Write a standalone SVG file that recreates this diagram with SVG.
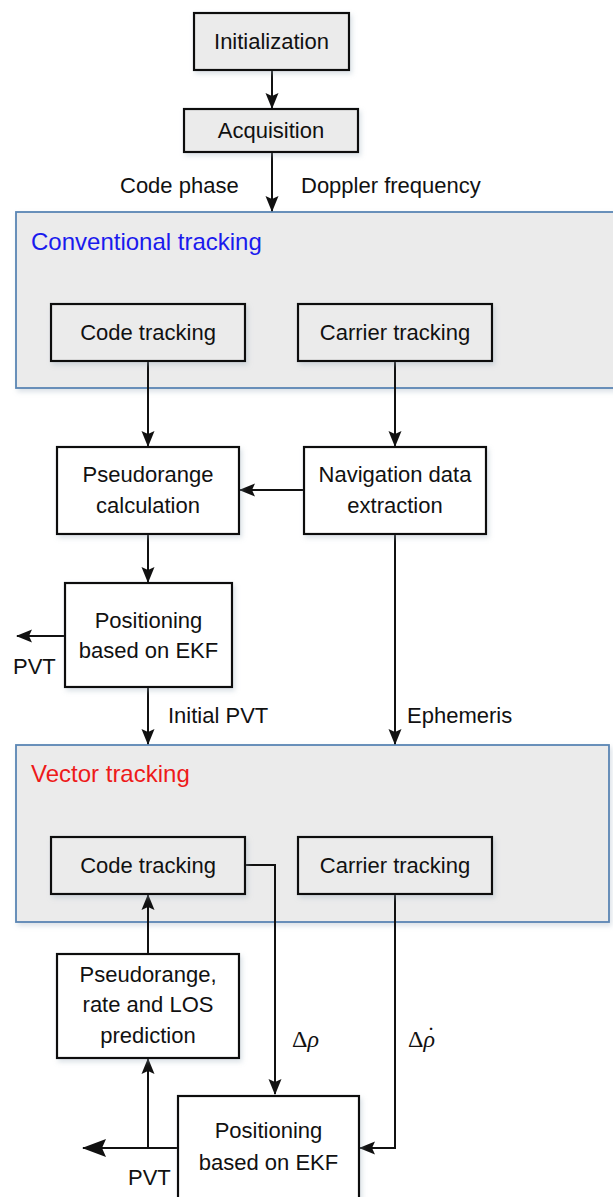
<svg xmlns="http://www.w3.org/2000/svg" width="613" height="1197" viewBox="0 0 613 1197">
<defs>
<style>
.t{font-family:"Liberation Sans",Arial,sans-serif;font-size:22px;fill:#111;text-anchor:middle}
.l{font-family:"Liberation Sans",Arial,sans-serif;font-size:22px;fill:#111}
.h{font-family:"Liberation Sans",Arial,sans-serif;font-size:24px}
.g{font-family:"Liberation Serif","Times New Roman",serif;font-size:24px;fill:#111}
.box{fill:#ffffff;stroke:#111;stroke-width:2.2}
.gbox{fill:#ebebeb;stroke:#111;stroke-width:2.2}
.grp{fill:#ebebeb;stroke:#5a86b4;stroke-width:1.8}
.c{fill:none;stroke:#111;stroke-width:2}
</style>
<marker id="ah" markerUnits="userSpaceOnUse" markerWidth="16" markerHeight="14" viewBox="0 0 16 14" refX="15" refY="7" orient="auto">
<path d="M0,0.5 L16,7 L0,13.5 L3,7 Z" fill="#111"/>
</marker>
<marker id="ahL" markerUnits="userSpaceOnUse" markerWidth="24" markerHeight="20" viewBox="0 0 24 20" refX="23" refY="10" orient="auto">
<path d="M0,1 L24,10 L0,19 L4,10 Z" fill="#111"/>
</marker>
<filter id="sh" x="-10%" y="-10%" width="125%" height="130%">
<feDropShadow dx="2" dy="3" stdDeviation="2.5" flood-color="#9ab" flood-opacity="0.35"/>
</filter>
</defs>
<rect width="613" height="1197" fill="#ffffff"/>

<g id="conventional-group">
<rect class="grp" x="16" y="212" width="610" height="176" filter="url(#sh)"/>
<text class="h" x="31" y="250" fill="#1a1aee">Conventional tracking</text>
</g>
<g id="vector-group">
<rect class="grp" x="16" y="745" width="593" height="177" filter="url(#sh)"/>
<text class="h" x="31" y="782" fill="#ee1a1a">Vector tracking</text>
</g>

<g id="connectors">
<line class="c" x1="272" y1="70" x2="272" y2="108" marker-end="url(#ah)"/>
<line class="c" x1="272" y1="152" x2="272" y2="211" marker-end="url(#ah)"/>
<line class="c" x1="148" y1="361" x2="148" y2="446" marker-end="url(#ah)"/>
<line class="c" x1="395" y1="361" x2="395" y2="446" marker-end="url(#ah)"/>
<line class="c" x1="304" y1="490" x2="240" y2="490" marker-end="url(#ah)"/>
<line class="c" x1="148" y1="534" x2="148" y2="582" marker-end="url(#ah)"/>
<line class="c" x1="65" y1="636" x2="17" y2="636" marker-end="url(#ah)"/>
<line class="c" x1="148" y1="687" x2="148" y2="744" marker-end="url(#ah)"/>
<line class="c" x1="395" y1="534" x2="395" y2="744" marker-end="url(#ah)"/>
<polyline class="c" points="245,865 275,865 275,1094" marker-end="url(#ah)"/>
<polyline class="c" points="395,894 395,1148 360,1148" marker-end="url(#ah)"/>
<line class="c" x1="148" y1="954" x2="148" y2="895" marker-end="url(#ah)"/>
<line class="c" x1="178" y1="1148" x2="83" y2="1148" marker-end="url(#ahL)"/>
<line class="c" x1="148" y1="1148" x2="148" y2="1059" marker-end="url(#ah)"/>
<text class="l" x="120" y="193">Code phase</text>
<text class="l" x="301" y="193">Doppler frequency</text>
<text class="l" x="13" y="674">PVT</text>
<text class="l" x="168" y="723">Initial PVT</text>
<text class="l" x="407" y="723">Ephemeris</text>
<text class="g" x="292" y="1047">Δ<tspan font-style="italic">ρ</tspan></text>
<text class="g" x="408" y="1047">Δ<tspan font-style="italic">ρ</tspan><tspan dx="-8" dy="-4">˙</tspan></text>
<text class="l" x="128" y="1185">PVT</text>
</g>

<g id="initialization">
<rect class="gbox" x="194" y="13" width="155" height="57" filter="url(#sh)"/>
<text class="t" x="271.5" y="49">Initialization</text>
</g>
<g id="acquisition">
<rect class="gbox" x="184" y="109" width="174" height="43" filter="url(#sh)"/>
<text class="t" x="271" y="138">Acquisition</text>
</g>
<g id="conv-code-tracking">
<rect class="gbox" x="51" y="304" width="194" height="57" filter="url(#sh)"/>
<text class="t" x="148" y="340">Code tracking</text>
</g>
<g id="conv-carrier-tracking">
<rect class="gbox" x="298" y="304" width="194" height="57" filter="url(#sh)"/>
<text class="t" x="395" y="340">Carrier tracking</text>
</g>
<g id="pseudorange-calculation">
<rect class="box" x="57" y="447" width="182" height="87" filter="url(#sh)"/>
<text class="t" x="148" y="482">Pseudorange</text>
<text class="t" x="148" y="513">calculation</text>
</g>
<g id="navigation-data-extraction">
<rect class="box" x="304" y="447" width="182" height="87" filter="url(#sh)"/>
<text class="t" x="395" y="482">Navigation data</text>
<text class="t" x="395" y="513">extraction</text>
</g>
<g id="positioning-ekf-1">
<rect class="box" x="65" y="583" width="167" height="104" filter="url(#sh)"/>
<text class="t" x="148.5" y="628">Positioning</text>
<text class="t" x="148.5" y="658">based on EKF</text>
</g>
<g id="vec-code-tracking">
<rect class="gbox" x="51" y="837" width="194" height="57" filter="url(#sh)"/>
<text class="t" x="148" y="873">Code tracking</text>
</g>
<g id="vec-carrier-tracking">
<rect class="gbox" x="298" y="837" width="194" height="57" filter="url(#sh)"/>
<text class="t" x="395" y="873">Carrier tracking</text>
</g>
<g id="prediction">
<rect class="box" x="57" y="954" width="182" height="104" filter="url(#sh)"/>
<text class="t" x="148" y="982">Pseudorange,</text>
<text class="t" x="148" y="1012">rate and LOS</text>
<text class="t" x="148" y="1043">prediction</text>
</g>
<g id="positioning-ekf-2">
<rect class="box" x="178" y="1096" width="181" height="120" filter="url(#sh)"/>
<text class="t" x="268.5" y="1138">Positioning</text>
<text class="t" x="268.5" y="1170">based on EKF</text>
</g>
</svg>
